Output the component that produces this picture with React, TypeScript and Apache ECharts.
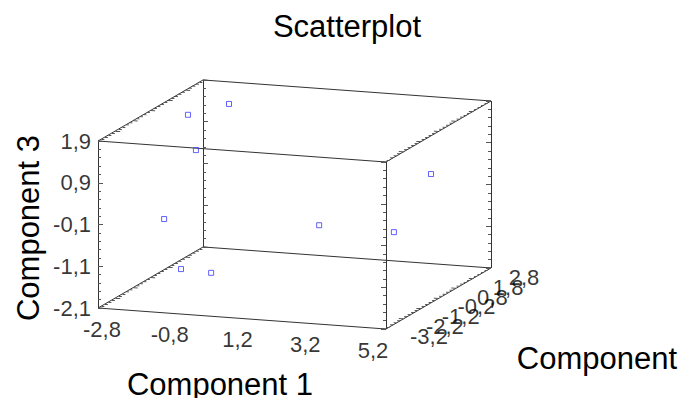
import React, { useEffect, useRef } from "react";
import * as echarts from "echarts";

// Axis ticks (Component 1, Component 2 (depth), Component 3)
const X_TICKS = [-2.8, -0.8, 1.2, 3.2, 5.2];
const Y_TICKS = [-3.2, -2.2, -1.2, -0.2, 0.8, 1.8, 2.8];
const Z_TICKS = [-2.1, -1.1, -0.1, 0.9, 1.9];

// Data points
const COMP1 = [-2.1, -1.3, -1.15, -1.79, -2.05, -0.97, 2.76, 4.35, 4.02];
const COMP2 = [0.5, 1.2, -1.0, -1.5, 0.0, -0.5, -2.0, -1.0, 1.8];
const COMP3 = [1.67, 1.81, 1.25, -0.32, -1.9, -1.8, -0.06, -0.37, 0.32];

const W = 683;
const H = 398;
const FONT = "'Liberation Sans', Arial, sans-serif";

const X_MIN = X_TICKS[0];
const X_MAX = X_TICKS[X_TICKS.length - 1];
const Y_MIN = Y_TICKS[0];
const Y_MAX = Y_TICKS[Y_TICKS.length - 1];
const Z_MIN = Z_TICKS[0];
const Z_MAX = Z_TICKS[Z_TICKS.length - 1];

// oblique projection (screen vectors per data unit)
const ORIGIN = [98, 308];
const EX = [36, 2.625];
const EY = [17.5, -10.17];
const EZ = [0, -41.75];

function proj(x: number, y: number, z: number): number[] {
  const dx = x - X_MIN;
  const dy = y - Y_MIN;
  const dz = z - Z_MIN;
  return [
    ORIGIN[0] + dx * EX[0] + dy * EY[0] + dz * EZ[0],
    ORIGIN[1] + dx * EX[1] + dy * EY[1] + dz * EZ[1],
  ];
}

const fmt = (v: number) => v.toFixed(1).replace(".", ",");

export default function App() {
  const ref = useRef<HTMLDivElement>(null);
  useEffect(() => {
    document.body.style.margin = "0";
    if (!ref.current) return;
    const chart = echarts.init(ref.current, null, { renderer: "svg" });

    // box edges
    const xs = [X_MIN, X_MAX];
    const ys = [Y_MIN, Y_MAX];
    const zs = [Z_MIN, Z_MAX];
    const edges: any[] = [];
    for (const y of ys)
      for (const z of zs) edges.push({ coords: [proj(X_MIN, y, z), proj(X_MAX, y, z)] });
    for (const x of xs)
      for (const z of zs) edges.push({ coords: [proj(x, Y_MIN, z), proj(x, Y_MAX, z)] });
    for (const x of xs)
      for (const y of ys) edges.push({ coords: [proj(x, y, Z_MIN), proj(x, y, Z_MAX)] });

    // ticks
    const ticks: any[] = [];
    const zSteps = Math.round((Z_MAX - Z_MIN) / 0.2);
    for (const x of xs) {
      const dir = x === X_MIN ? 1 : -1;
      for (const y of ys) {
        for (let i = 0; i <= zSteps; i++) {
          const z = Z_MIN + i * 0.2;
          const p = proj(x, y, z);
          const len = i % 5 === 0 ? 5 : 3;
          ticks.push({ coords: [p, [p[0] + dir * len, p[1]]] });
        }
      }
    }
    const ySteps = Math.round((Y_MAX - Y_MIN) / 0.2);
    for (const x of xs) {
      const dir = x === X_MIN ? 1 : -1;
      for (const z of zs) {
        for (let i = 0; i <= ySteps; i++) {
          const y = Y_MIN + i * 0.2;
          const p = proj(x, y, z);
          const len = i % 5 === 0 ? 0.13 : 0.08;
          const q = proj(x + dir * len, y, z);
          ticks.push({ coords: [p, q] });
        }
      }
    }

    const zLabels = Z_TICKS.map((v) => ({ value: proj(X_MIN, Y_MIN, v), name: fmt(v) }));
    const xLabels = X_TICKS.map((v) => {
      const p = proj(v, Y_MIN, Z_MIN);
      const t = (v - X_MIN) / (X_MAX - X_MIN);
      return { value: [p[0] + 4 - 17 * t, p[1] + 21], name: fmt(v) };
    });
    const yLabels = Y_TICKS.map((v) => {
      const p = proj(X_MAX, v, Z_MIN);
      const t = (v - Y_MIN) / (Y_MAX - Y_MIN);
      return { value: [p[0] + 43 - 10 * t, p[1] + 7 + 3 * t], name: fmt(v) };
    });

    const points = COMP1.map((x, i) => proj(x, COMP2[i], COMP3[i]));

    const labelBase = {
      show: true,
      formatter: "{b}",
      color: "#000",
      fontSize: 22,
      fontFamily: FONT,
    };

    chart.setOption({
      animation: false,
      grid: { left: 0, right: 0, top: 0, bottom: 0 },
      xAxis: { type: "value", min: 0, max: W, show: false },
      yAxis: { type: "value", min: 0, max: H, inverse: true, show: false },
      series: [
        {
          type: "lines",
          coordinateSystem: "cartesian2d",
          silent: true,
          lineStyle: { color: "#333", width: 1, opacity: 1 },
          data: edges,
        },
        {
          type: "lines",
          coordinateSystem: "cartesian2d",
          silent: true,
          lineStyle: { color: "#555", width: 1, opacity: 1 },
          data: ticks,
        },
        {
          type: "scatter",
          silent: true,
          symbol: "rect",
          symbolSize: 5,
          itemStyle: { color: "rgba(0,0,0,0)", borderColor: "#3b3bff", borderWidth: 1 },
          data: points,
        },
        {
          type: "scatter",
          silent: true,
          symbolSize: 0,
          itemStyle: { color: "rgba(0,0,0,0)" },
          label: { ...labelBase, position: "left", distance: 7 },
          data: zLabels,
        },
        {
          type: "scatter",
          silent: true,
          symbolSize: 0,
          itemStyle: { color: "rgba(0,0,0,0)" },
          label: { ...labelBase, position: "inside" },
          data: xLabels,
        },
        {
          type: "scatter",
          silent: true,
          symbolSize: 0,
          itemStyle: { color: "rgba(0,0,0,0)" },
          label: { ...labelBase, position: "inside" },
          data: yLabels,
        },
      ],
      graphic: [
        {
          type: "text",
          x: 347,
          y: 26,
          style: { text: "Scatterplot", fontSize: 31, fontFamily: FONT, fill: "#000", align: "center", verticalAlign: "middle" },
        },
        {
          type: "text",
          x: 220,
          y: 384,
          style: { text: "Component 1", fontSize: 31, fontFamily: FONT, fill: "#000", align: "center", verticalAlign: "middle" },
        },
        {
          type: "text",
          x: 597,
          y: 358,
          style: { text: "Component", fontSize: 31, fontFamily: FONT, fill: "#000", align: "center", verticalAlign: "middle" },
        },
        {
          type: "text",
          x: 28,
          y: 228,
          rotation: Math.PI / 2,
          style: { text: "Component 3", fontSize: 31, fontFamily: FONT, fill: "#000", align: "center", verticalAlign: "middle" },
        },
      ],
    });
    return () => chart.dispose();
  }, []);
  return <div ref={ref} style={{ width: W, height: H }} />;
}
